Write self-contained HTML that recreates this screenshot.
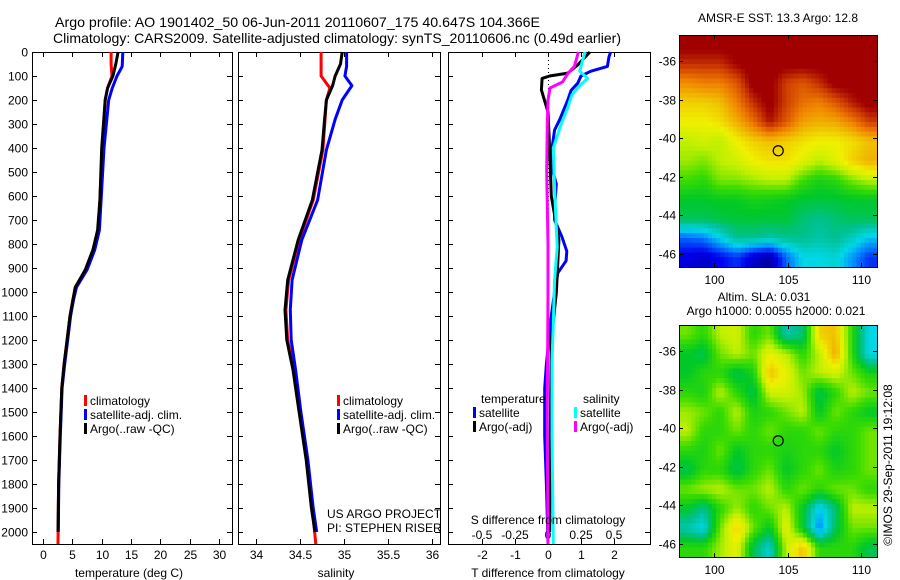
<!DOCTYPE html>
<html><head><meta charset="utf-8">
<style>
html,body{margin:0;padding:0;background:#fff;}
svg{display:block;font-family:"Liberation Sans",sans-serif;}
text{fill:#000;}
</style></head>
<body>
<svg id="fig" width="900" height="580" viewBox="0 0 900 580" xmlns="http://www.w3.org/2000/svg">
<rect x="0" y="0" width="900" height="580" fill="#fff"/>
<text x="55" y="27" font-size="14" textLength="485" lengthAdjust="spacingAndGlyphs">Argo profile: AO 1901402_50 06-Jun-2011 20110607_175 40.647S 104.366E</text>
<text x="53" y="43" font-size="14" textLength="568" lengthAdjust="spacingAndGlyphs">Climatology: CARS2009. Satellite-adjusted climatology: synTS_20110606.nc (0.49d earlier)</text>
<g id="p1"></g>
<g id="p2"></g>
<g id="p3"></g>
<g id="m1"></g>
<g id="m2"></g>
<text x="778" y="22" font-size="12" text-anchor="middle">AMSR-E SST: 13.3 Argo: 12.8</text>
<text x="764" y="301" font-size="12" text-anchor="middle">Altim. SLA: 0.031</text>
<text x="776" y="315" font-size="12" text-anchor="middle">Argo h1000: 0.0055 h2000: 0.021</text>
<text x="0" y="0" font-size="12" text-anchor="middle" transform="translate(892,465) rotate(-90)">©IMOS 29-Sep-2011 19:12:08</text>
<text x="327" y="518" font-size="12">US ARGO PROJECT</text>
<text x="327" y="532" font-size="12">PI: STEPHEN RISER</text>
</svg>
<script>
// ---- data ----
const depthTicks = [0,100,200,300,400,500,600,700,800,900,1000,1100,1200,1300,1400,1500,1600,1700,1800,1900,2000];
const tempTicks = [0,5,10,15,20,25,30];
const salTicks = [34,34.5,35,35.5,36];
const salTickLabels = ["34","34.5","35","35.5","36"];
const tdTicks = [-2,-1,0,1,2];
const sdTicks = [-0.5,-0.25,0,0.25,0.5];
const sdTickLabels = ["-0.5","-0.25","0","0.25","0.5"];

const tClimDepth = [0,50,100,150,200,400,617,742,825,908,980,1033,1100,1200,1300,1400,1600,1800,2050];
const tClimVal   = [11.6,11.6,11.75,11.0,10.6,10.1,9.7,9.4,8.5,7.2,5.5,5.1,4.6,4.1,3.6,3.2,2.9,2.65,2.55];
const tSatDepth  = [0,60,100,150,200,400,617,742,825,908,980,1033,1100,1200,1300,1400,1600,1800,2000];
const tSatVal    = [13.6,13.5,12.6,11.8,11.2,10.4,9.9,9.6,8.8,7.5,5.7,5.2,4.7,4.2,3.7,3.25,2.95,2.7,2.6];
const tArgoDepth = [0,50,100,150,200,400,617,742,825,908,980,1033,1100,1200,1300,1400,1600,1800,2000];
const tArgoVal   = [12.8,12.4,11.9,11.0,10.6,10.0,9.7,9.3,8.5,7.2,5.5,5.1,4.6,4.1,3.6,3.2,2.9,2.65,2.55];

const sClimDepth = [0,100,150,200,408,617,783,950,1075,1200,1325,1500,1700,1900,2050];
const sClimVal   = [34.74,34.74,34.84,34.8,34.76,34.65,34.49,34.37,34.34,34.36,34.43,34.5,34.58,34.64,34.68];
const sSatDepth  = [0,60,100,140,200,280,408,617,783,950,1075,1200,1325,1500,1700,1900,2000];
const sSatVal    = [35.03,35.03,35.01,35.09,34.98,34.9,34.8,34.7,34.52,34.41,34.39,34.4,34.45,34.51,34.59,34.65,34.69];
const sArgoDepth = [0,50,100,140,200,280,408,617,783,950,1075,1200,1325,1500,1700,1900,2000];
const sArgoVal   = [34.98,34.96,34.9,34.87,34.8,34.78,34.75,34.64,34.48,34.36,34.33,34.35,34.42,34.49,34.57,34.63,34.67];

const dtSatDepth = [0,20,60,80,100,130,160,200,280,325,400,500,550,650,700,770,830,870,920,1000,1100,1300,1400,1600,1800,2050];
const dtSatVal   = [1.9,1.85,1.8,1.3,1.0,0.9,0.7,0.6,0.36,0.2,0.12,0.15,0.25,0.2,0.2,0.42,0.57,0.55,0.3,0.2,0.1,-0.05,-0.1,-0.1,-0.05,0];
const dtArgoDepth= [0,54,88,100,110,158,228,250,400,600,783,1004,1200,1500,1800,2000];
const dtArgoVal  = [1.27,0.9,0.6,0.05,-0.18,-0.2,-0.05,0,0.05,0.1,0.33,0.25,0.1,0.08,0.06,0.05];
const dsSatDepth = [0,40,80,110,140,180,230,300,400,575,812,950,1130,1290,1600,2050];
const dsSatVal   = [0.28,0.26,0.24,0.3,0.24,0.18,0.15,0.1,0.04,0.05,0.07,0.05,0.04,0.03,0.03,0.04];
const dsArgoDepth= [0,60,90,125,150,200,300,500,800,1000,1500,2050];
const dsArgoVal  = [0.23,0.2,0.15,0.11,0.015,0,-0.005,-0.01,0,0,-0.005,0];

const lonTicks = [100,105,110];
const latTicks = [-36,-38,-40,-42,-44,-46];
const argoLon = 104.366, argoLat = -40.647;
const sstGrid = [
[.97,.97,.97,.97,.97,.97,.97,.97,.97,.97,.97,.97],
[.9,.9,.9,.95,.97,.97,.97,.97,.97,.97,.97,.97],
[.78,.8,.8,.85,.97,.97,.88,.85,.9,.97,.97,.97],
[.7,.7,.72,.8,.9,.97,.88,.82,.8,.85,.92,.97],
[.66,.66,.68,.74,.82,.93,.85,.76,.74,.75,.8,.88],
[.6,.62,.6,.66,.7,.72,.7,.68,.66,.66,.68,.72],
[.58,.56,.6,.62,.66,.68,.68,.64,.6,.64,.7,.74],
[.52,.5,.56,.56,.58,.6,.6,.52,.48,.5,.56,.6],
[.45,.45,.46,.46,.48,.47,.46,.44,.44,.44,.45,.45],
[.42,.42,.43,.44,.44,.44,.44,.4,.38,.4,.42,.42],
[.2,.22,.3,.38,.38,.36,.38,.38,.36,.38,.34,.28],
[.1,.08,.12,.16,.08,.04,.2,.3,.3,.32,.24,.16]];
const slaGrid = [
[.55,.5,.6,.62,.5,.55,.35,.4,.7,.72,.5,.3],
[.45,.42,.55,.6,.55,.65,.6,.5,.6,.75,.5,.3],
[.45,.5,.5,.42,.48,.72,.65,.55,.6,.62,.55,.48],
[.5,.48,.6,.5,.42,.62,.62,.58,.42,.5,.6,.55],
[.58,.55,.5,.6,.48,.5,.55,.6,.45,.55,.5,.45],
[.6,.5,.5,.55,.5,.55,.5,.5,.55,.5,.5,.55],
[.5,.48,.55,.45,.5,.5,.48,.5,.5,.45,.5,.55],
[.42,.5,.5,.42,.5,.55,.45,.5,.55,.48,.5,.55],
[.55,.58,.6,.55,.55,.6,.5,.55,.5,.55,.55,.5],
[.45,.38,.5,.58,.5,.55,.6,.45,.28,.4,.6,.6],
[.35,.3,.55,.7,.55,.45,.65,.45,.22,.42,.55,.55],
[.5,.5,.58,.65,.42,.32,.6,.72,.5,.5,.5,.42]];

// ---- helpers ----
const NS = "http://www.w3.org/2000/svg";
function mk(parent, tag, attrs){ const e=document.createElementNS(NS,tag); for(const k in attrs) e.setAttribute(k,attrs[k]); parent.appendChild(e); return e; }
const yD = d => 52 + d*0.24;
const PT = 52, PB = 544;
function frame(g, x0, x1){
  const r = mk(g,'rect',{x:x0+0.5,y:PT+0.5,width:x1-x0,height:PB-PT,fill:'none',stroke:'#000','stroke-width':1});
  
  
}
function depthTicksOn(g, x0, x1, labels){
  depthTicks.forEach(d=>{
    const y = Math.round(yD(d))+0.5;
    const t1 = mk(g,'line',{x1:x0,y1:y,x2:x0+5,y2:y,stroke:'#000'});
    
    
    const t2 = mk(g,'line',{x1:x1-5,y1:y,x2:x1,y2:y,stroke:'#000'});
    
    
    if(labels){
      const tx = mk(g,'text',{x:x0-4,y:y+4,'font-size':12,'text-anchor':'end'});
      tx.textContent = d;
      
      
    }
  });
}
function xTicks(g, vals, labs, xf, y, topTicks){
  vals.forEach((v,i)=>{
    const x = Math.round(xf(v))+0.5;
    const b = mk(g,'line',{x1:x,y1:PB,x2:x,y2:PB-5,stroke:'#000'});
    
    
    if(topTicks){
      const t = mk(g,'line',{x1:x,y1:PT,x2:x,y2:PT+5,stroke:'#000'});
      
      
    }
    const tx = mk(g,'text',{x:x,y:y,'font-size':12,'text-anchor':'middle'});
    tx.textContent = labs[i];
    
    
  });
}
function line(g, depths, vals, xf, color, name){
  const pts = depths.map((d,i)=>xf(vals[i]).toFixed(1)+','+yD(d).toFixed(1)).join(' ');
  const p = mk(g,'polyline',{points:pts,fill:'none',stroke:color,'stroke-width':3,'stroke-linejoin':'round'});
  
  
}
function legend(g, x, y, color, label){
  const r = mk(g,'rect',{x:x,y:y-10,width:3,height:11,fill:color});
  
  
  const t = mk(g,'text',{x:x+6,y:y,'font-size':12});
  t.textContent = label;
  
  
}
function title(g,x,y,s,name){
  const t = mk(g,'text',{x:x,y:y,'font-size':12,'text-anchor':'middle'});
  t.textContent = s;
  
  
}

// ---- panel 1: temperature ----
const p1 = document.getElementById('p1');
const xT = v => 43 + v*5.87;
frame(p1,32,232);
depthTicksOn(p1,32,232,true);
xTicks(p1,tempTicks,tempTicks.map(String),xT,559,true);
line(p1,tClimDepth,tClimVal,xT,'#f00','temp-climatology-line');
line(p1,tSatDepth,tSatVal,xT,'#00f','temp-satellite-line');
line(p1,tArgoDepth,tArgoVal,xT,'#000','temp-argo-line');
legend(p1,84,405,'#f00','climatology');
legend(p1,84,419,'#00f','satellite-adj. clim.');
legend(p1,84,433,'#000','Argo(..raw -QC)');
title(p1,129,577,'temperature (deg C)','x-axis-title-temperature');

// ---- panel 2: salinity ----
const p2 = document.getElementById('p2');
const xS = v => 256 + (v-34)*88;
frame(p2,238,440);
depthTicksOn(p2,238,440,false);
xTicks(p2,salTicks,salTickLabels,xS,559,true);
line(p2,sClimDepth,sClimVal,xS,'#f00','sal-climatology-line');
line(p2,sSatDepth,sSatVal,xS,'#00f','sal-satellite-line');
line(p2,sArgoDepth,sArgoVal,xS,'#000','sal-argo-line');
legend(p2,337,405,'#f00','climatology');
legend(p2,337,419,'#00f','satellite-adj. clim.');
legend(p2,337,433,'#000','Argo(..raw -QC)');
title(p2,336,577,'salinity','x-axis-title-salinity');

// ---- panel 3: differences ----
const p3 = document.getElementById('p3');
const xTd = v => 548 + v*33;
const xSd = v => 548 + v*4*33;
frame(p3,448,650);
depthTicksOn(p3,448,650,false);
xTicks(p3,tdTicks,tdTicks.map(String),xTd,559,true);
sdTicks.forEach((v,i)=>{
  const t = mk(p3,'text',{x:xSd(v),y:539,'font-size':12,'text-anchor':'middle'});
  t.textContent = sdTickLabels[i];
  
  
});
const zl = mk(p3,'line',{x1:xTd(0)+0.5,y1:PT,x2:xTd(0)+0.5,y2:yD(900),stroke:'#000','stroke-dasharray':'1,3'});


line(p3,dtSatDepth,dtSatVal,xTd,'#00f','tdiff-satellite-line');
line(p3,dtArgoDepth,dtArgoVal,xTd,'#000','tdiff-argo-line');
line(p3,dsSatDepth,dsSatVal,xSd,'#0ff','sdiff-satellite-line');
line(p3,dsArgoDepth,dsArgoVal,xSd,'#f0f','sdiff-argo-line');
const lt1 = mk(p3,'text',{x:481,y:403,'font-size':12}); lt1.textContent='temperature';


const lt2 = mk(p3,'text',{x:583,y:403,'font-size':12}); lt2.textContent='salinity';


legend(p3,473,417,'#00f','satellite');
legend(p3,473,431,'#000','Argo(-adj)');
legend(p3,574,417,'#0ff','satellite');
legend(p3,574,431,'#f0f','Argo(-adj)');
title(p3,548,524,'S difference from climatology','s-diff-axis-title');
title(p3,548,577,'T difference from climatology','x-axis-title-tdiff');

// ---- maps ----
const cstops = [[0,[0,0,128]],[0.12,[0,0,240]],[0.22,[0,128,255]],[0.3,[0,216,232]],[0.38,[0,192,144]],[0.45,[0,200,40]],[0.52,[60,220,0]],[0.6,[192,240,0]],[0.66,[240,240,0]],[0.72,[240,192,0]],[0.8,[240,128,0]],[0.88,[208,64,0]],[0.95,[160,0,0]],[1,[160,0,0]]];
function cmap(v){
  for(let i=1;i<cstops.length;i++){
    if(v<=cstops[i][0]){
      const a=cstops[i-1], b=cstops[i], t=(v-a[0])/(b[0]-a[0]||1);
      const c=a[1].map((x,j)=>Math.round(x+(b[1][j]-x)*t));
      return 'rgb('+c.join(',')+')';
    }
  }
  return 'rgb(160,0,0)';
}
function sample(grid, fr, fc){
  const rows=grid.length, cols=grid[0].length;
  const r=Math.min(Math.max(fr,0),rows-1), c=Math.min(Math.max(fc,0),cols-1);
  const r0=Math.floor(r), c0=Math.floor(c), r1=Math.min(r0+1,rows-1), c1=Math.min(c0+1,cols-1);
  const tr=r-r0, tc=c-c0;
  return grid[r0][c0]*(1-tr)*(1-tc)+grid[r0][c1]*(1-tr)*tc+grid[r1][c0]*tr*(1-tc)+grid[r1][c1]*tr*tc;
}
function drawMap(g, top, bottom, grid, name){
  const x0=679, x1=877;
  const lonMin=97.6, lonMax=111.1, latTop=-34.65, latBot=-46.67;
  const xL = lon => x0 + (lon-lonMin)/(lonMax-lonMin)*(x1-x0);
  const yL = lat => top + (latTop-lat)/(latTop-latBot)*(bottom-top);
  const rows=grid.length, cols=grid[0].length;
  const sub=4, R=rows*sub, C=cols*sub;
  const cw=(x1-x0)/C, ch=(bottom-top)/R;
  for(let r=0;r<R;r++) for(let c=0;c<C;c++){
    const v = sample(grid,(r+0.5)/sub-0.5,(c+0.5)/sub-0.5);
    const cell = mk(g,'rect',{x:(x0+c*cw).toFixed(2),y:(top+r*ch).toFixed(2),width:(cw+0.5).toFixed(2),height:(ch+0.5).toFixed(2),fill:cmap(v)});
    
    
  }
  const fr = mk(g,'rect',{x:x0+0.5,y:top+0.5,width:x1-x0,height:bottom-top,fill:'none',stroke:'#000'});
  
  
  lonTicks.forEach(lon=>{
    const x=Math.round(xL(lon))+0.5;
    const t1=mk(g,'line',{x1:x,y1:bottom,x2:x,y2:bottom-4,stroke:'#000'});
    
    
    const t2=mk(g,'line',{x1:x,y1:top,x2:x,y2:top+4,stroke:'#000'});
    
    
    const tx=mk(g,'text',{x:x,y:bottom+17,'font-size':12,'text-anchor':'middle'});
    tx.textContent=lon;
    
    
  });
  latTicks.forEach(lat=>{
    const y=Math.round(yL(lat))+0.5;
    const t1=mk(g,'line',{x1:x0,y1:y,x2:x0+4,y2:y,stroke:'#000'});
    
    
    const t2=mk(g,'line',{x1:x1-4,y1:y,x2:x1,y2:y,stroke:'#000'});
    
    
    const tx=mk(g,'text',{x:x0-3,y:y+4,'font-size':12,'text-anchor':'end'});
    tx.textContent=lat;
    
    
  });
  const c = mk(g,'circle',{cx:xL(argoLon),cy:yL(argoLat),r:5,fill:'none',stroke:'#000','stroke-width':1.2});
  
  
}
drawMap(document.getElementById('m1'),35,267,sstGrid,'sst-map');
drawMap(document.getElementById('m2'),325,557,slaGrid,'sla-map');
</script>
</body></html>
